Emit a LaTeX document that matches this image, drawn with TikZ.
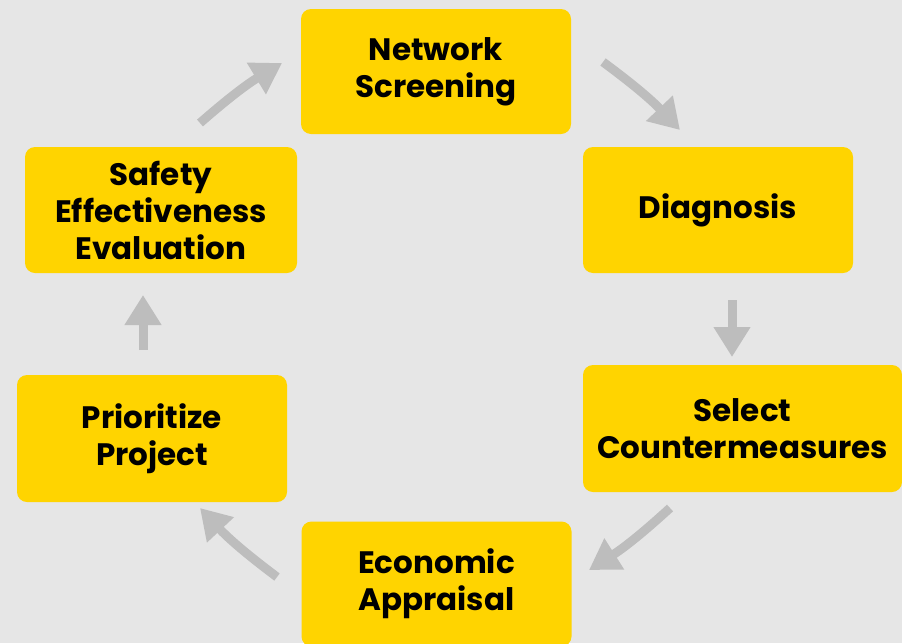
\documentclass[tikz,border=0pt]{standalone}
\usepackage{fontspec}
\setmainfont{Poppins}
\usetikzlibrary{arrows.meta}
\definecolor{bg}{HTML}{E6E6E6}
\definecolor{boxy}{HTML}{FFD400}
\definecolor{arr}{HTML}{BDBDBD}
\tikzset{
  stepbox/.style={fill=boxy, rounded corners=10pt, align=center, inner sep=0pt,
    font=\fontsize{31}{37}\selectfont\bfseries, text=black},
  flow/.style={draw=arr, line width=9pt, -{Triangle[width=35pt,length=30pt]}}
}
\begin{document}
\begin{tikzpicture}[x=1pt,y=-1pt]
\fill[bg] (0,0) rectangle (902,643);
\useasboundingbox (0,0) rectangle (902,643);
\clip (0,0) rectangle (902,643);
\node[stepbox, minimum width=270pt, minimum height=125pt] (ns) at (436,71.5) {Network\\Screening};
\node[stepbox, minimum width=270pt, minimum height=126pt] (dg) at (718,210) {Diagnosis};
\node[stepbox, minimum width=319pt, minimum height=127pt] (sc) at (742.5,428.5) {Select\\Countermeasures};
\node[stepbox, minimum width=270pt, minimum height=125pt] (ea) at (436.5,584) {Economic\\Appraisal};
\node[stepbox, minimum width=270pt, minimum height=127pt] (pp) at (152,438.5) {Prioritize\\Project};
\node[stepbox, minimum width=272pt, minimum height=126pt] (se) at (161,210) {Safety\\Effectiveness\\Evaluation};
\coordinate (a1s) at (200,123); \coordinate (a1e) at (282,63);
\coordinate (a2s) at (603,62);  \coordinate (a2e) at (680,130);
\coordinate (a3s) at (732,300); \coordinate (a3e) at (732,357);
\coordinate (a4s) at (670,508); \coordinate (a4e) at (589,570);
\coordinate (a5s) at (277,577); \coordinate (a5e) at (200,508);
\coordinate (a6s) at (143,350); \coordinate (a6e) at (143,295);
\draw[flow] (a1s) to[bend left=5] (a1e);
\draw[flow] (a2s) to[bend left=5] (a2e);
\draw[flow] (a3s) -- (a3e);
\draw[flow] (a4s) to[bend left=5] (a4e);
\draw[flow] (a5s) to[bend left=5] (a5e);
\draw[flow] (a6s) -- (a6e);
\end{tikzpicture}
\end{document}
